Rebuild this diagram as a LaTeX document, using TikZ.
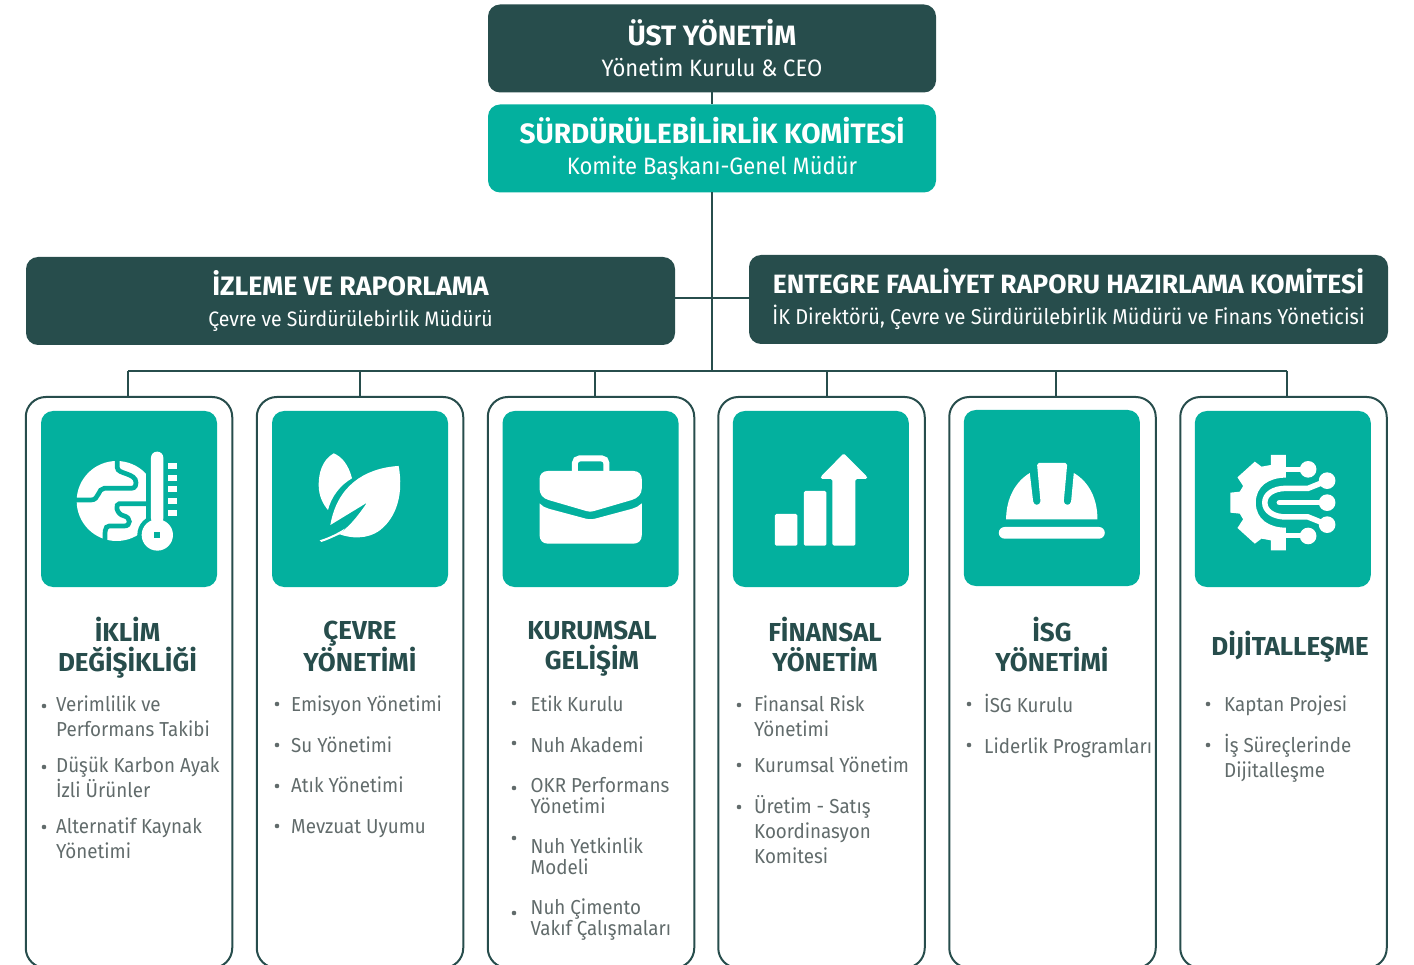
\documentclass[tikz,border=0pt]{standalone}
\usepackage{fontspec}
\setmainfont[FakeStretch=0.93, BoldFeatures={FakeStretch=1.0}]{Fira Sans}
\usepackage{tikz}
\usetikzlibrary{positioning}
\definecolor{darkgreen}{HTML}{274D4C}
\definecolor{tealgreen}{HTML}{03B09E}
\definecolor{itemgray}{HTML}{616B6B}
\newcommand{\boxtitle}[2]{{\fontsize{#1}{31}\selectfont\bfseries #2}}
\newcommand{\boxsub}[2]{{\fontsize{#1}{31}\selectfont #2}}
\newcommand{\firstline}{\rule{0pt}{20pt}}

\begin{document}
\begin{tikzpicture}[
        x=1pt, y=-1pt,
        headbox/.style={rectangle, rounded corners=12pt, text=white, align=center, inner sep=0pt, outer sep=0pt, font=\fontsize{26}{31}\selectfont},
        darkbox/.style={headbox, fill=darkgreen},
        tealbox/.style={headbox, fill=tealgreen},
        card/.style={rectangle, draw=darkgreen, line width=2pt, rounded corners=20pt, minimum width=206.5pt, minimum height=571pt, anchor=north, inner sep=0pt, outer sep=0pt},
        tile/.style={rectangle, fill=tealgreen, rounded corners=12pt, minimum width=176pt, minimum height=176pt, inner sep=0pt, outer sep=0pt},
        wire/.style={draw=darkgreen, line width=2pt},
        heading/.style={text=darkgreen, align=center, inner sep=0pt, font=\fontsize{26}{30}\selectfont\bfseries},
        item/.style={text=itemgray, anchor=north west, align=left, inner sep=0pt, font=\fontsize{20.2}{25}\selectfont},
        tightitem/.style={item, font=\fontsize{20.2}{21}\selectfont},
        dot/.style={fill=itemgray},
        icon/.style={shift={(#1.north west)}, x=0.3333pt, y=-0.3333pt, fill=white},
        gap/.style={draw=tealgreen, line width=4.7pt}
    ]
        \path[use as bounding box, clip] (0,0) rectangle (1414,965);

        \node[darkbox, minimum width=448pt, minimum height=88pt] (management) at (712,48.5) {\boxtitle{28}{ÜST YÖNETİM}\\\boxsub{23.7}{Yönetim Kurulu \& CEO}};
        \node[tealbox, minimum width=448pt, minimum height=88pt, below=12pt of management] (committee) {\boxtitle{28}{SÜRDÜRÜLEBİLİRLİK KOMİTESİ}\\\boxsub{23.7}{Komite Başkanı-Genel Müdür}};
        \node[darkbox, minimum width=649pt, minimum height=88pt] (monitoring) at (350.5,301) {\boxtitle{26.7}{İZLEME VE RAPORLAMA}\\\boxsub{20.9}{Çevre ve Sürdürülebirlik Müdürü}};
        \node[darkbox, minimum width=639pt, minimum height=89pt] (reporting) at (1068.5,299.5) {\boxtitle{26.5}{ENTEGRE FAALİYET RAPORU HAZIRLAMA KOMİTESİ}\\\boxsub{21.5}{İK Direktörü, Çevre ve Sürdürülebirlik Müdürü ve Finans Yöneticisi}};

        \node[card] (card1) at (129,397) {};
        \node[card, right=24.5pt of card1] (card2) {};
        \node[card, right=24.5pt of card2] (card3) {};
        \node[card, right=24pt of card3] (card4) {};
        \node[card, right=24.5pt of card4] (card5) {};
        \node[card, right=24.5pt of card5] (card6) {};

        \node[tile, below=14pt of card1.north] (tile1) {};
        \node[tile, below=14pt of card2.north] (tile2) {};
        \node[tile, below=14pt of card3.north, xshift=-0.5pt] (tile3) {};
        \node[tile, below=14pt of card4.north, xshift=-0.7pt] (tile4) {};
        \node[tile, below=13pt of card5.north, xshift=-0.7pt] (tile5) {};
        \node[tile, below=14pt of card6.north, xshift=-0.7pt] (tile6) {};

        \coordinate (side) at (712,298);
        \coordinate (drop1) at (128,371);
        \coordinate (drop2) at (360,371);
        \coordinate (drop3) at (595,371);
        \coordinate (drop4) at (827,371);
        \coordinate (drop5) at (1056,371);
        \coordinate (drop6) at (1287,371);

        \draw[wire] (management) -- (committee);
        \draw[wire] (committee) -- (committee |- drop1);
        \draw[wire] (side -| monitoring.east) -- (side -| reporting.west);
        \draw[wire] (drop1) -- (drop6);
        \draw[wire] (drop1) -- (drop1 |- card1.north);
        \draw[wire] (drop2) -- (drop2 |- card2.north);
        \draw[wire] (drop3) -- (drop3 |- card3.north);
        \draw[wire] (drop4) -- (drop4 |- card4.north);
        \draw[wire] (drop5) -- (drop5 |- card5.north);
        \draw[wire] (drop6) -- (drop6 |- card6.north);

        % globe and thermometer
        \begin{scope}[icon=tile1]
            \begin{scope}
                \clip (100,140) rectangle (315,400);
                \fill[white] (227,270) circle (120);
            \end{scope}
            \draw[gap] (229,145) -- (229,170) .. controls (229,190) and (285,185) .. (285,215) .. controls (285,232) and (275,232) .. (265,232) -- (190,232) .. controls (170,232) and (175,267) .. (150,267) -- (100,267);
            \draw[gap] (315,278) -- (235,278) .. controls (222,278) and (225,310) .. (250,315) .. controls (270,320) and (270,345) .. (250,345) -- (205,345) .. controls (190,345) and (192,365) .. (192,395);
            \fill[tealgreen] (349,372) circle (60);
            \fill[white, rounded corners=6pt] (330,122) rectangle (367,340);
            \fill[white] (349,372) circle (47);
            \fill[tealgreen] (339,362) rectangle (357,380);
            \fill[white] (380,155) rectangle (407,174);
            \fill[white] (380,192) rectangle (407,210);
            \fill[white] (380,225) rectangle (407,242);
            \fill[white] (380,260) rectangle (407,279);
            \fill[white] (380,297) rectangle (407,315);
        \end{scope}

        % leaves
        \begin{scope}[icon=tile2]
            \fill[white] (185,127) .. controls (150,147) and (140,187) .. (140,222) .. controls (140,257) and (155,282) .. (168,297) .. controls (178,257) and (205,222) .. (240,202) .. controls (230,162) and (210,137) .. (185,127) -- cycle;
            \fill[white] (378,165) .. controls (275,172) and (195,227) .. (175,342) -- (285,275) .. controls (250,327) and (225,352) .. (200,369) .. controls (235,382) and (285,387) .. (325,357) .. controls (375,317) and (395,247) .. (380,165) -- cycle;
            \fill[white] (143,388) .. controls (170,380) and (200,365) .. (218,353) -- (205,369) .. controls (185,378) and (165,388) .. (148,393) -- cycle;
        \end{scope}

        % briefcase
        \begin{scope}[icon=tile3]
            \draw[white, line width=6pt, rounded corners=5pt] (217,182) -- (217,142) -- (312,142) -- (312,182);
            \fill[white] (136,180) -- (393,180) .. controls (408,180) and (418,190) .. (418,205) -- (418,232) .. controls (418,250) and (405,262) .. (388,267) -- (275,300) .. controls (268,303) and (258,303) .. (251,300) -- (138,267) .. controls (121,262) and (111,250) .. (111,232) -- (111,205) .. controls (111,190) and (121,180) .. (136,180) -- cycle;
            \fill[white] (111,277) .. controls (118,285) and (128,290) .. (138,293) -- (250,323) .. controls (258,325) and (270,325) .. (278,323) -- (390,293) .. controls (400,290) and (410,285) .. (418,277) -- (418,372) .. controls (418,388) and (408,398) .. (393,398) -- (136,398) .. controls (121,398) and (111,388) .. (111,372) -- cycle;
        \end{scope}

        % bars and arrow
        \begin{scope}[icon=tile4]
            \fill[white, rounded corners=1.5pt] (126,309) rectangle (194,404);
            \fill[white, rounded corners=1.5pt] (213,240) rectangle (281,404);
            \fill[white, rounded corners=1.5pt] (299,404) -- (299,204) -- (264,204) -- (264,197) -- (333,127) -- (403,197) -- (403,204) -- (368,204) -- (368,404) -- cycle;
        \end{scope}

        % helmet
        \begin{scope}[icon=tile5]
            \fill[white] (127,328) .. controls (127,265) and (155,215) .. (198,189) -- (208,274) .. controls (209,288) and (229,288) .. (230,274) -- (220,165) -- (225,159) -- (305,159) -- (310,165) -- (300,274) .. controls (301,288) and (321,288) .. (322,274) -- (330,189) .. controls (375,215) and (401,265) .. (401,328) -- cycle;
            \fill[white, rounded corners=5.8pt] (105,351) rectangle (423,386);
        \end{scope}

        % gear with circuit
        \begin{scope}[icon=tile6]
            \fill[white] (273,132) -- (228,132) -- (228,162) -- (200,167) -- (180,152) -- (128,199) -- (145,225) -- (135,242) -- (107,245) -- (107,305) -- (135,308) -- (145,325) -- (128,351) -- (180,398) -- (200,383) -- (228,388) -- (228,418) -- (273,418) -- (273,350) .. controls (223,350) and (183,325) .. (183,275) .. controls (183,225) and (223,200) .. (273,200) -- cycle;
            \draw[white, line width=5pt] (273,175) -- (340,175);
            \draw[white, line width=5pt] (273,375) -- (340,375);
            \draw[white, line width=5.5pt] (397,209) -- (340,232) -- (275,232) .. controls (235,232) and (210,250) .. (210,275) .. controls (210,300) and (235,318) .. (275,318) -- (340,318) -- (397,341);
            \draw[white, line width=5pt, line cap=round] (253,275) -- (397,275);
            \fill[white] (340,175) circle (25);
            \fill[white] (397,209) circle (25);
            \fill[white] (397,275) circle (25);
            \fill[white] (397,341) circle (25);
            \fill[white] (340,375) circle (25);
        \end{scope}

        \node[heading] (title1) at (127.5,648) {İKLİM\\DEĞİŞİKLİĞİ};
        \node[heading] (title2) at (360,646.5) {ÇEVRE\\YÖNETİMİ};
        \node[heading] (title3) at (592,649) {KURUMSAL\\GELİŞİM};
        \node[heading] (title4) at (825,645) {FİNANSAL\\YÖNETİM};
        \node[heading] (title5) at (1052,645) {İSG\\YÖNETİMİ};
        \node[heading] (title6) at (1290,647) {DİJİTALLEŞME};

        \node[item] (item11) at (56,691) {\firstline Verimlilik ve\\Performans Takibi};
        \node[item] (item12) at (56,752) {\firstline Düşük Karbon Ayak\\İzli Ürünler};
        \node[item] (item13) at (56,813) {\firstline Alternatif Kaynak\\Yönetimi};
        \fill[dot] (44,706) circle (2.3pt);
        \fill[dot] (44,767) circle (2.3pt);
        \fill[dot] (44,827) circle (2.3pt);

        \node[item] (item21) at (291,691) {\firstline Emisyon Yönetimi};
        \node[item] (item22) at (291,732) {\firstline Su Yönetimi};
        \node[item] (item23) at (291,772) {\firstline Atık Yönetimi};
        \node[item] (item24) at (291,813) {\firstline Mevzuat Uyumu};
        \fill[dot] (277,704) circle (2.3pt);
        \fill[dot] (277,745) circle (2.3pt);
        \fill[dot] (277,786) circle (2.3pt);
        \fill[dot] (277,826) circle (2.3pt);

        \node[item] (item31) at (530.5,691) {\firstline Etik Kurulu};
        \node[item] (item32) at (530.5,732) {\firstline Nuh Akademi};
        \node[tightitem] (item33) at (530.5,772) {\firstline OKR Performans\\Yönetimi};
        \node[tightitem] (item34) at (530.5,833) {\firstline Nuh Yetkinlik\\Modeli};
        \node[tightitem] (item35) at (530.5,894) {\firstline Nuh Çimento\\Vakıf Çalışmaları};
        \fill[dot] (514,703) circle (2.3pt);
        \fill[dot] (514,743) circle (2.3pt);
        \fill[dot] (514,788) circle (2.3pt);
        \fill[dot] (514,838) circle (2.3pt);
        \fill[dot] (514,913) circle (2.3pt);

        \node[item] (item41) at (754,691) {\firstline Finansal Risk\\Yönetimi};
        \node[item] (item42) at (754,752) {\firstline Kurumsal Yönetim};
        \node[item] (item43) at (754,793) {\firstline Üretim - Satış\\Koordinasyon\\Komitesi};
        \fill[dot] (739,705) circle (2.3pt);
        \fill[dot] (739,765) circle (2.3pt);
        \fill[dot] (739,807) circle (2.3pt);

        \node[item] (item51) at (984,692) {\firstline İSG Kurulu};
        \node[item] (item52) at (984,733) {\firstline Liderlik Programları};
        \fill[dot] (969,704) circle (2.3pt);
        \fill[dot] (969,745) circle (2.3pt);

        \node[item] (item61) at (1224,691) {\firstline Kaptan Projesi};
        \node[item] (item62) at (1224,732) {\firstline İş Süreçlerinde\\Dijitalleşme};
        \fill[dot] (1208,704) circle (2.3pt);
        \fill[dot] (1208,745) circle (2.3pt);
    \end{tikzpicture}
\end{document}
